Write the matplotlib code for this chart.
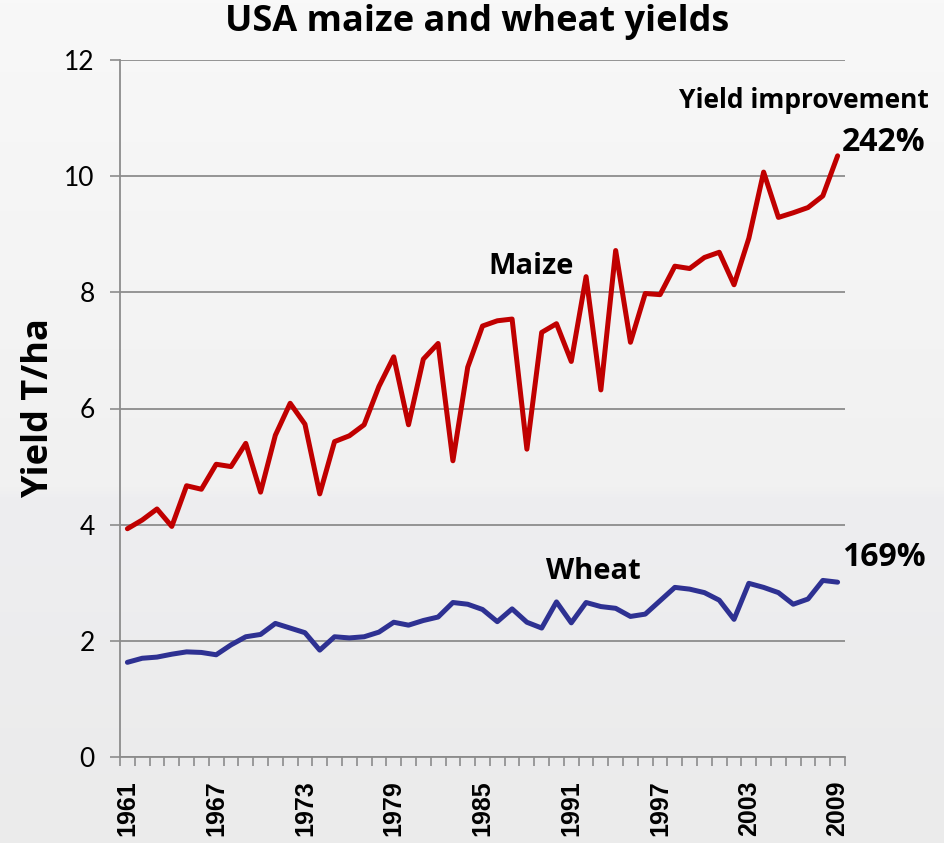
import numpy as np
import matplotlib
matplotlib.use('Agg')
from matplotlib import pyplot as plt
from matplotlib.colors import LinearSegmentedColormap

years = list(range(1961, 2010))
maize = [3.93, 4.08, 4.27, 3.97, 4.67, 4.61, 5.04, 5.00, 5.40, 4.56,
         5.54, 6.09, 5.73, 4.53, 5.43, 5.53, 5.72, 6.38, 6.89, 5.72,
         6.85, 7.12, 5.10, 6.71, 7.42, 7.51, 7.54, 5.30, 7.31, 7.46,
         6.81, 8.27, 6.32, 8.72, 7.14, 7.98, 7.96, 8.45, 8.41, 8.60,
         8.69, 8.13, 8.93, 10.07, 9.29, 9.37, 9.46, 9.66, 10.35]
wheat = [1.63, 1.70, 1.72, 1.77, 1.81, 1.80, 1.76, 1.93, 2.07, 2.11,
         2.30, 2.22, 2.14, 1.84, 2.07, 2.05, 2.07, 2.15, 2.32, 2.27,
         2.35, 2.41, 2.66, 2.63, 2.54, 2.33, 2.55, 2.32, 2.22, 2.67,
         2.31, 2.66, 2.59, 2.56, 2.42, 2.46, 2.69, 2.92, 2.89, 2.83,
         2.70, 2.37, 2.99, 2.92, 2.83, 2.63, 2.72, 3.04, 3.01]
yticks = [0, 2, 4, 6, 8, 10, 12]

GRID = '#8c8c8c'

fig = plt.figure(figsize=(9.44, 8.43), dpi=100)

# soft vertical gradient behind everything
bg = fig.add_axes([0, 0, 1, 1], zorder=-10)
cmap = LinearSegmentedColormap.from_list(
    'bg', [(0, '#f8f8f8'), (0.58, '#f1f1f1'), (0.59, '#eeeef0'), (1, '#ebebeb')])
bg.imshow(np.linspace(0, 1, 256).reshape(-1, 1), aspect='auto', cmap=cmap,
          extent=[0, 1, 0, 1])
bg.axis('off')

ax = fig.add_axes([120 / 944, 1 - 757 / 843, 725 / 944, 697 / 843])
ax.set_facecolor('none')

x = np.arange(len(years))
ax.plot(x, maize, color='#c00000', lw=3.6, solid_joinstyle='round',
        solid_capstyle='round', zorder=3)
ax.plot(x, wheat, color='#2e3192', lw=3.6, solid_joinstyle='round',
        solid_capstyle='round', zorder=3)

ax.set_xlim(-0.5, len(years) - 0.5)
ax.set_ylim(0, 12)

ax.set_yticks(yticks)
ax.set_yticklabels([str(v) for v in yticks], fontfamily='Lato', fontsize=19)
ax.tick_params(axis='y', length=7.2, width=1.2, color=GRID, pad=11)
ax.yaxis.grid(True, color=GRID, lw=1.3)
ax.set_axisbelow(True)

major = x[::6]
ax.set_xticks(major)
ax.set_xticklabels([str(years[i]) for i in major], rotation=90,
                   fontfamily='Liberation Sans', fontweight='bold', fontsize=18)
ax.set_xticks(np.arange(-0.5, len(years)), minor=True)
ax.tick_params(axis='x', which='major', length=0, pad=17)
ax.tick_params(axis='x', which='minor', length=6.5, width=1.2, color=GRID)

for s in ['top', 'right']:
    ax.spines[s].set_visible(False)
for s in ['left', 'bottom']:
    ax.spines[s].set_color(GRID)
    ax.spines[s].set_linewidth(1.3)

ax.set_ylabel('Yield T/ha', fontfamily='Open Sans', fontweight='bold',
              fontsize=26, labelpad=5)
fig.text(0.505, 0.974, 'USA maize and wheat yields', ha='center', va='center',
         fontfamily='Open Sans', fontweight='bold', fontsize=26)

tkw = dict(fontfamily='Open Sans', fontweight='bold', color='black', clip_on=False)
ax.text(27.3, 8.45, 'Maize', ha='center', va='center', fontsize=21, **tkw)
ax.text(31.5, 3.2, 'Wheat', ha='center', va='center', fontsize=21, **tkw)
ax.text(37.3, 11.3, 'Yield improvement', ha='left', va='center', fontsize=19, **tkw)
ax.text(48.3, 10.58, '242%', ha='left', va='center', fontsize=23, **tkw)
ax.text(48.3, 3.43, '169%', ha='left', va='center', fontsize=23, **tkw)

plt.savefig('out.png', dpi=100)
